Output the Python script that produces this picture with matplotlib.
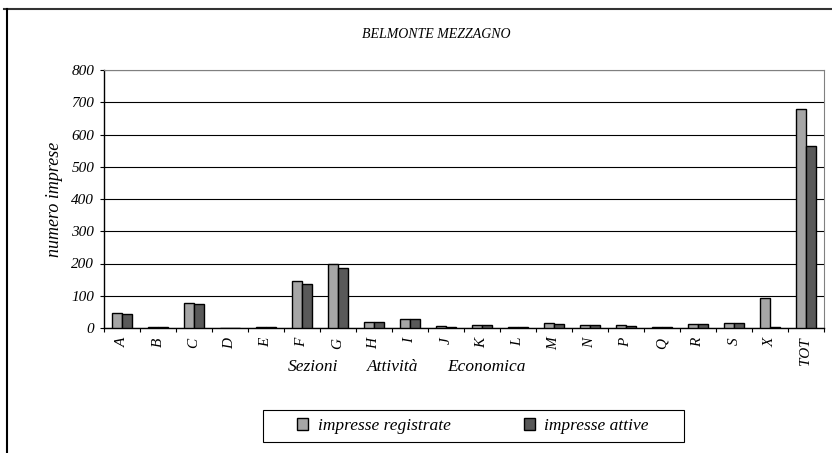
import numpy as np
import matplotlib.pyplot as plt
from matplotlib.lines import Line2D
from matplotlib.patches import Rectangle

categorie = ["A", "B", "C", "D", "E", "F", "G", "H", "I", "J", "K", "L",
             "M", "N", "P", "Q", "R", "S", "X", "TOT"]
registrate = [45, 2, 76, 0, 2, 147, 200, 20, 28, 5, 10, 2, 14, 10, 8, 3, 12, 17, 92, 678]
attive = [42, 2, 75, 0, 2, 137, 187, 18, 28, 4, 10, 2, 13, 10, 7, 3, 12, 17, 4, 563]

plt.rcParams['font.family'] = ['Liberation Serif', 'DejaVu Serif']
plt.rcParams['font.style'] = 'italic'

W, H = 832, 453
fig = plt.figure(figsize=(W / 100, H / 100), dpi=100)
ax = fig.add_axes([104 / W, 1 - 328 / H, 720 / W, 258 / H])

x = np.arange(len(categorie))
bw = 0.29
ax.bar(x - bw / 2, registrate, bw, color="#a6a6a6", edgecolor="black",
       linewidth=1, label="impresse registrate", zorder=3)
ax.bar(x + bw / 2, attive, bw, color="#595959", edgecolor="black",
       linewidth=1, label="impresse attive", zorder=3)

ax.set_xlim(-0.5, len(categorie) - 0.5)
ax.set_ylim(0, 800)
ax.set_yticks(range(0, 801, 100))
ax.set_yticklabels([str(v) for v in range(0, 801, 100)], fontsize=11)
ax.yaxis.grid(True, color="black", linewidth=0.8, zorder=0)
ax.tick_params(axis="y", direction="out", length=3, width=0.8, pad=4)

ax.set_xticks(np.arange(-0.5, len(categorie), 1))
ax.set_xticklabels([])
ax.set_xticks(x, minor=True)
ax.set_xticklabels(categorie, minor=True, rotation=90, fontsize=11)
ax.tick_params(axis="x", which="major", direction="out", length=3, width=0.8)
ax.tick_params(axis="x", which="minor", length=0, pad=7)

for s in ["top", "right"]:
    ax.spines[s].set_color("#808080")
for s in ["left", "bottom"]:
    ax.spines[s].set_color("black")
    ax.spines[s].set_linewidth(1)

ax.set_ylabel("numero imprese", fontsize=13, labelpad=6)

fig.text(436 / W, 1 - 35 / H, "BELMONTE MEZZAGNO", ha="center", va="center", fontsize=10)
for xp, parola in [(288, "Sezioni"), (367, "Attività"), (447, "Economica")]:
    fig.text(xp / W, 1 - 367 / H, parola, ha="left", va="center", fontsize=12.5)

# outer border (top and left)
fig.add_artist(Line2D([4 / W, 1], [1 - 9 / H, 1 - 9 / H], color="#333333", linewidth=1.5))
fig.add_artist(Line2D([7.5 / W, 7.5 / W], [0, 1 - 9 / H], color="black", linewidth=1.5))

leg = fig.legend(loc="center", ncol=2, bbox_to_anchor=(473 / W, 1 - 426 / H),
                 fontsize=12.5, handlelength=0.65, handleheight=0.65,
                 handletextpad=0.55, columnspacing=4.2, frameon=False)
fig.add_artist(Rectangle((263 / W, 1 - 442 / H), 421 / W, 32 / H, transform=fig.transFigure,
                         fill=False, edgecolor="black", linewidth=0.8))

plt.savefig("out.png", dpi=100)
